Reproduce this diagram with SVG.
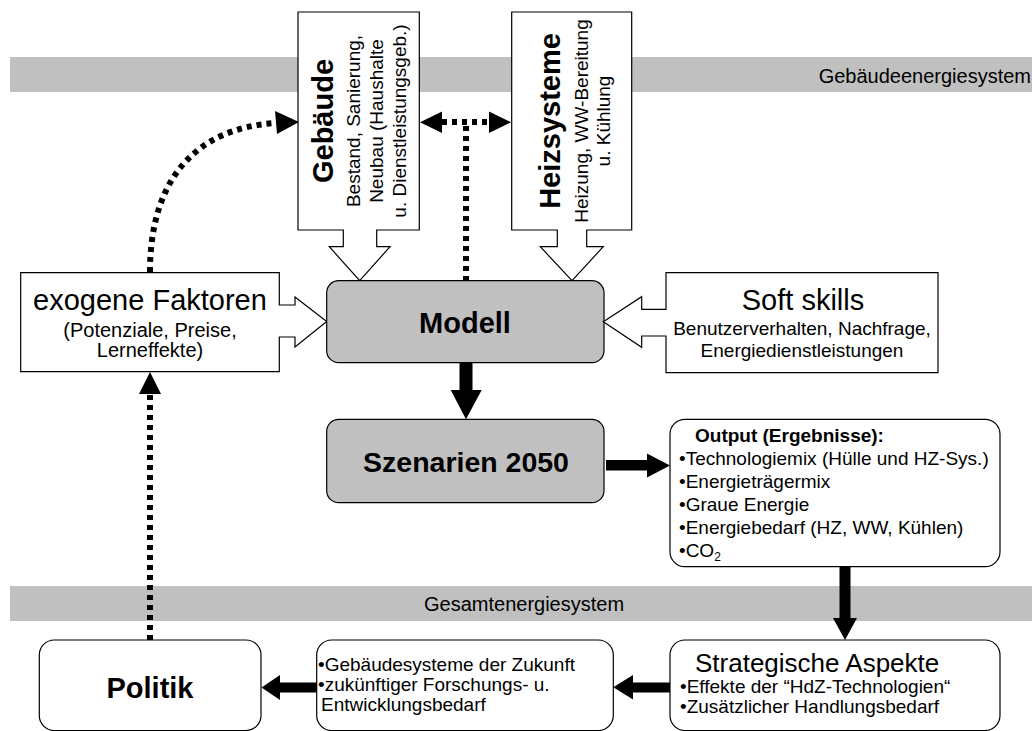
<svg xmlns="http://www.w3.org/2000/svg" width="1032" height="731" viewBox="0 0 1032 731">
<style>
text{font-family:"Liberation Sans",Arial,Helvetica,sans-serif;fill:#000}
.b{font-weight:bold}
.h29{font-size:29px}
.s19{font-size:19px}
.box{fill:#fff;stroke:#000;stroke-width:1.2}
.gbox{fill:#c0c0c0;stroke:#000;stroke-width:1.2}
.band{fill:#c0c0c0}
.dot{fill:none;stroke:#000;stroke-width:6;stroke-dasharray:5 5}
.solid{fill:#000}
.c{text-anchor:middle}
</style>
<rect x="0" y="0" width="1032" height="731" fill="#fff"/>
<g id="bands">
<rect class="band" x="10" y="57" width="1022" height="35"/>
<text x="1031" y="83" font-size="20" text-anchor="end">Gebäudeenergiesystem</text>
<rect class="band" x="10" y="586" width="1022" height="35"/>
<text x="424" y="611" font-size="20">Gesamtenergiesystem</text>
</g>
<g id="node-gebaeude">
<path class="box" d="M298,12 H419.3 V230 H376.7 V246.7 H390 L359.7,280.7 L329.3,246.7 H343.3 V230 H298 Z"/>
<text class="b h29 c" transform="translate(333,121) rotate(-90)">Gebäude</text>
<text class="s19 c" transform="translate(360,121) rotate(-90)">Bestand, Sanierung,</text>
<text class="s19 c" transform="translate(383,121) rotate(-90)">Neubau (Haushalte</text>
<text class="s19 c" transform="translate(406,121) rotate(-90)">u. Dienstleistungsgeb.)</text>
</g>
<g id="node-heizsysteme">
<path class="box" d="M511.7,12 H631.7 V230 H586.7 V246.7 H603.3 L572,280.7 L540.3,246.7 H557.3 V230 H511.7 Z"/>
<text class="b h29 c" transform="translate(560,121) rotate(-90)">Heizsysteme</text>
<text class="s19 c" transform="translate(588,121) rotate(-90)">Heizung, WW-Bereitung</text>
<text class="s19 c" transform="translate(610,121) rotate(-90)">u. Kühlung</text>
</g>
<g id="node-exogene">
<path class="box" d="M20.7,272.7 H279.3 V305 H295 V297 L326.7,321.5 L295,347 V337 H279.3 V371.7 H20.7 Z"/>
<text class="h29 c" x="150" y="310">exogene Faktoren</text>
<text class="c" font-size="20" x="150" y="337">(Potenziale, Preise,</text>
<text class="c" font-size="20" x="150" y="357">Lerneffekte)</text>
</g>
<g id="node-modell">
<rect class="gbox" x="326.7" y="280.7" width="277.3" height="82" rx="12"/>
<text class="b h29 c" x="465" y="333">Modell</text>
</g>
<g id="node-softskills">
<path class="box" d="M666,272.7 H938 V372.7 H666 V336 H641.7 V347.3 L603.3,321.7 L641.7,296.7 V309.3 H666 Z"/>
<text class="h29 c" x="803" y="310">Soft skills</text>
<text class="s19 c" x="802" y="335">Benutzerverhalten, Nachfrage,</text>
<text class="s19 c" x="802" y="357">Energiedienstleistungen</text>
</g>
<g id="node-szenarien">
<rect class="gbox" x="326.7" y="419.3" width="277.3" height="83.4" rx="12"/>
<text class="b c" font-size="28.5" x="466" y="472">Szenarien 2050</text>
</g>
<g id="node-output">
<rect class="box" x="670" y="419.3" width="330" height="147.4" rx="15"/>
<text class="b s19" x="695" y="442">Output (Ergebnisse):</text>
<text class="s19" x="679" y="465">•Technologiemix (Hülle und HZ-Sys.)</text>
<text class="s19" x="679" y="488">•Energieträgermix</text>
<text class="s19" x="679" y="511">•Graue Energie</text>
<text class="s19" x="679" y="534">•Energiebedarf (HZ, WW, Kühlen)</text>
<text class="s19" x="679" y="557">•CO<tspan font-size="12" dy="4">2</tspan></text>
</g>
<g id="node-politik">
<rect class="box" x="39.3" y="640" width="221.7" height="90.5" rx="15"/>
<text class="b h29 c" x="150" y="698">Politik</text>
</g>
<g id="node-zukunft">
<rect class="box" x="316.7" y="640" width="296.6" height="90.5" rx="15"/>
<text class="s19" x="318" y="671">•Gebäudesysteme der Zukunft</text>
<text class="s19" x="318" y="691">•zukünftiger Forschungs- u.</text>
<text class="s19" x="321" y="711">Entwicklungsbedarf</text>
</g>
<g id="node-strategie">
<rect class="box" x="670" y="640" width="330" height="90.5" rx="15"/>
<text font-size="26" x="695" y="672">Strategische Aspekte</text>
<text class="s19" x="680" y="693">•Effekte der “HdZ-Technologien“</text>
<text class="s19" x="680" y="713">•Zusätzlicher Handlungsbedarf</text>
</g>
<g id="connectors">
<path class="dot" d="M150,272 C150,180 195,128 276,123"/>
<polygon class="solid" points="299,122 275,111 277,134"/>
<path class="dot" d="M466,281 V122"/>
<path class="dot" d="M442,122 H489"/>
<polygon class="solid" points="420,122.3 442,111.5 442,133"/>
<polygon class="solid" points="511,122.3 489,111.5 489,133"/>
<path class="dot" d="M150,640 V393"/>
<polygon class="solid" points="150,372 139,394 161,394"/>
<rect class="solid" x="459.5" y="362.7" width="13" height="28"/>
<polygon class="solid" points="450.7,390 481.7,390 466,419.3"/>
<rect class="solid" x="606" y="460" width="42" height="10.5"/>
<polygon class="solid" points="647,453.5 647,477.5 670,465.5"/>
<rect class="solid" x="839.5" y="566.7" width="11" height="52"/>
<polygon class="solid" points="833,618 857,618 845,640"/>
<rect class="solid" x="632" y="682.5" width="38" height="10"/>
<polygon class="solid" points="633,675 633,699.5 613.3,687.3"/>
<rect class="solid" x="279" y="682.5" width="38" height="10"/>
<polygon class="solid" points="280,675 280,700 261.5,687.5"/>
</g>
</svg>
